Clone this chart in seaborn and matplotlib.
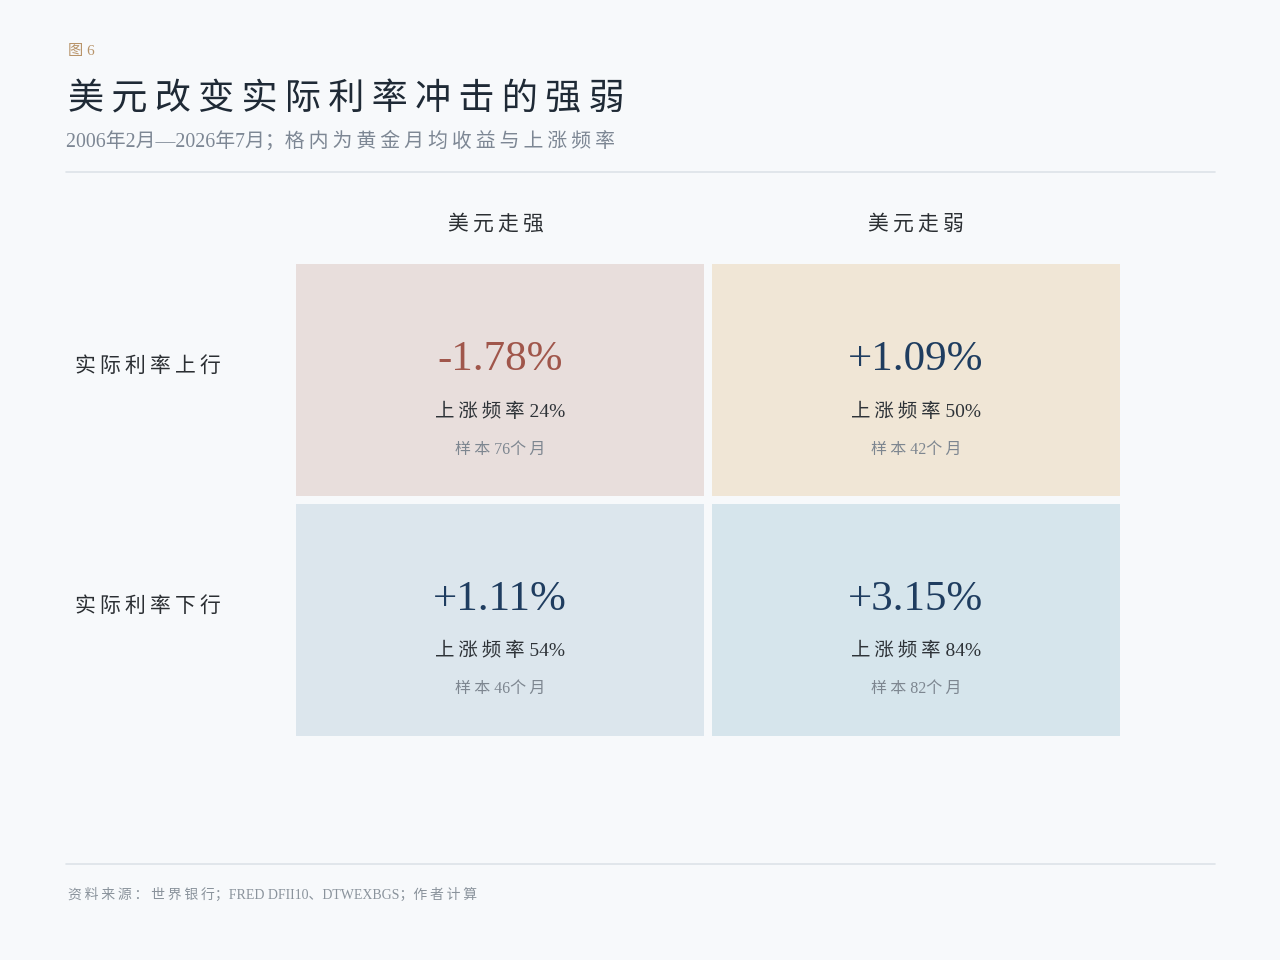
import matplotlib
matplotlib.use("Agg")
import matplotlib.pyplot as plt
import seaborn as sns
import numpy as np
from matplotlib.colors import ListedColormap
from matplotlib.lines import Line2D

sns.set_theme(style="white")
FONTS = ['Liberation Serif', 'Noto Sans CJK SC', 'DejaVu Sans']
plt.rcParams['font.family'] = FONTS

# Data
row_labels = ['实际利率上行', '实际利率下行']
col_labels = ['美元走强', '美元走弱']
mean_ret = [[-1.78, 1.09], [1.11, 3.15]]
up_freq = [[24, 50], [54, 84]]
n_months = [[76, 42], [46, 82]]

bg = '#f7f9fb'
cell_colors = ['#e8dedc', '#f0e6d6', '#dce6ed', '#d6e5ec']
cell_codes = np.array([[0, 1], [2, 3]])


def spaced(s, sep='\u2009'):
    # add a little letter spacing between CJK characters
    return sep.join(s)


fig = plt.figure(figsize=(12.8, 9.6), dpi=100, facecolor=bg)
ax = fig.add_axes([292 / 1280, 1 - 739.5 / 960, 832 / 1280, 479 / 960])
ax.set_facecolor(bg)

sns.heatmap(cell_codes, cmap=ListedColormap(cell_colors), vmin=-0.5, vmax=3.5,
            cbar=False, linewidths=4.4, linecolor=bg, ax=ax)
ax.set_xticks([])
ax.set_yticks([])
for s in ax.spines.values():
    s.set_visible(False)

for i in range(2):
    for j in range(2):
        v = mean_ret[i][j]
        color = '#a0564b' if v < 0 else '#1f3d60'
        label = f'{v:+.2f}%' if v > 0 else f'{v:.2f}%'
        ax.text(j + 0.5, i + 0.415, label, ha='center', va='center',
                fontsize=31, color=color)
        ax.text(j + 0.5, i + 0.63, spaced('上涨频率') + f' {up_freq[i][j]}%',
                ha='center', va='center', fontsize=14, color='#2e3338')
        ax.text(j + 0.5, i + 0.79, spaced('样本') + f' {n_months[i][j]}' + spaced('个月'),
                ha='center', va='center', fontsize=11.5, color='#7d8690')

for j, c in enumerate(col_labels):
    ax.text(j + 0.49 + 0.01 * j, -0.15, spaced(c), ha='center', va='center',
            fontsize=15, color='#2b2f33')

for i, r in enumerate(row_labels):
    fig.text(75 / 1280, 1 - (367 + 240 * i) / 960, spaced(r), ha='left', va='center',
             fontsize=15, color='#2b2f33')

# Header
fig.text(68 / 1280, 1 - 52 / 960, '图 6', ha='left', va='center', fontsize=11, color='#b8946a')
fig.text(68 / 1280, 1 - 100 / 960, spaced('美元改变实际利率冲击的强弱'), ha='left', va='center',
         fontsize=26, color='#1f2a36')
fig.text(66 / 1280, 1 - 142 / 960, '2006年2月—2026年7月；' + spaced('格内为黄金月均收益与上涨频率'),
         ha='left', va='center', fontsize=14.3, color='#7d8794')

fig.add_artist(Line2D([66 / 1280, 1215 / 1280], [1 - 172 / 960] * 2, color='#dde3e8', lw=1.2))
fig.add_artist(Line2D([66 / 1280, 1215 / 1280], [1 - 864 / 960] * 2, color='#dde3e8', lw=1.2))

fig.text(68 / 1280, 1 - 895 / 960, spaced('资料来源：世界银行') + '；FRED DFII10、DTWEXBGS；' + spaced('作者计算'),
         ha='left', va='center', fontsize=10, color='#8a939c')

fig.savefig('out.png', dpi=100, facecolor=bg)
